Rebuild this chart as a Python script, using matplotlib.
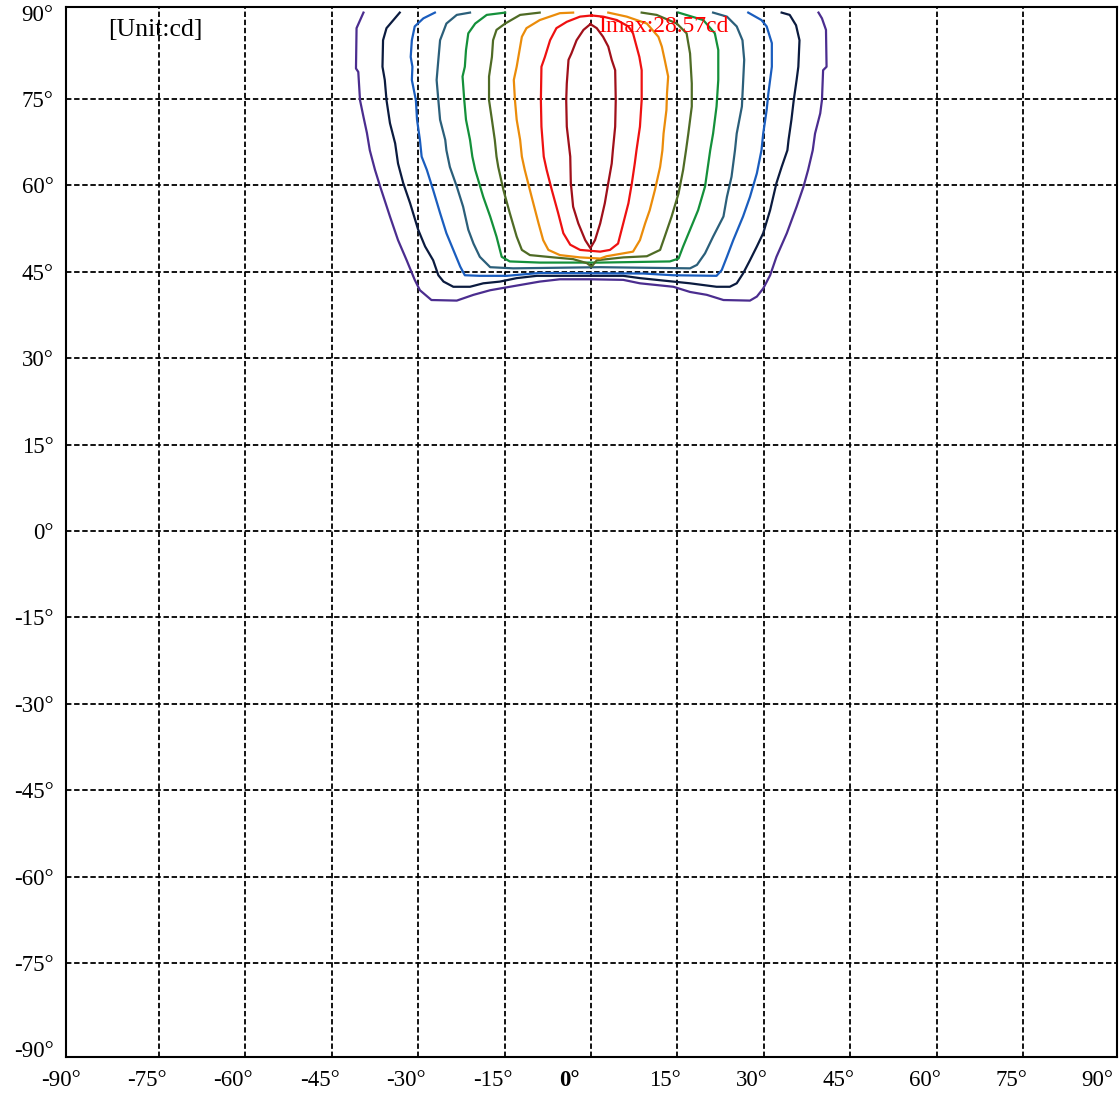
import numpy as np
import matplotlib
matplotlib.use('Agg')
import matplotlib.pyplot as plt
import matplotlib.transforms as mtransforms

# isocandela curves (degrees), outer -> inner
purple_x = [-39.5, -40.7, -40.8, -40.4, -40.1, -39.5, -38.9, -38.4, -37.5, -36.6, -34.9, -33.5, -32.0, -30.6, -29.7,
            -27.7, -23.3, -20.4, -17.5, -13.5, -8.9, -5.4, -0.2, 5.6, 8.5, 11.4, 14.3, 17.2, 20.1, 23.0, 27.6, 28.8,
            29.9, 31.1, 32.2, 34.0, 35.7, 36.9, 37.7, 38.5, 38.9, 39.8, 40.1, 40.3, 40.9, 40.8, 40.1, 39.5]
purple_y = [90.0, 87.3, 80.3, 79.7, 74.8, 71.9, 69.1, 66.1, 62.7, 59.8, 54.6, 50.5, 47.0, 43.6, 41.8,
            40.1, 40.0, 41.0, 41.8, 42.5, 43.3, 43.7, 43.7, 43.6, 43.0, 42.7, 42.4, 41.5, 41.0, 40.1, 40.0, 40.7,
            42.1, 44.4, 47.6, 51.7, 56.3, 59.8, 62.7, 66.1, 69.0, 72.5, 74.8, 80.0, 80.6, 87.0, 89.0, 90.0]

navy_x = [-33.2, -35.5, -36.1, -36.2, -35.8, -35.5, -34.9, -34.0, -33.5, -32.6, -31.4, -30.0, -28.8, -27.4, -26.5,
          -25.6, -23.9, -21.0, -18.7, -15.8, -12.9, -9.4, 1.6, 5.6, 8.5, 14.3, 17.2, 21.8, 24.1, 25.3, 26.4, 27.6,
          28.8, 29.9, 31.1, 32.2, 33.1, 34.1, 34.3, 34.8, 35.2, 35.7, 36.0, 36.2, 35.6, 34.5, 33.1]
navy_y = [90.0, 87.3, 85.2, 80.6, 78.3, 74.8, 70.8, 67.3, 63.8, 60.4, 56.9, 52.3, 49.4, 47.0, 44.4,
          43.3, 42.4, 42.4, 43.0, 43.3, 43.9, 44.3, 44.3, 44.3, 43.9, 43.3, 43.0, 42.4, 42.4, 43.0, 44.7, 47.0,
          49.4, 51.7, 55.7, 60.4, 63.2, 66.1, 67.9, 71.4, 74.8, 78.3, 80.6, 85.2, 87.8, 89.6, 90.0]

blue_x = [-27.1, -29.1, -30.6, -31.1, -31.3, -31.0, -31.1, -30.4, -30.2, -29.7, -29.4, -28.5, -27.4, -26.2, -25.1,
          -23.9, -22.7, -21.9, -19.3, -14.6, -11.2, -8.9, 9.1, 14.3, 21.8, 22.7, 23.6, 24.7, 26.4, 27.6, 28.8,
          29.6, 29.9, 30.5, 30.8, 31.4, 31.4, 30.5, 29.6, 27.3]
blue_y = [90.0, 89.0, 87.6, 85.2, 82.3, 80.6, 78.3, 74.8, 71.4, 67.9, 65.0, 62.7, 59.2, 55.2, 51.7,
          48.8, 45.9, 44.4, 44.3, 44.3, 44.6, 44.8, 44.7, 44.4, 44.3, 45.3, 47.6, 50.5, 54.6, 58.0, 62.1,
          66.1, 69.0, 73.1, 76.0, 80.6, 84.7, 87.6, 88.7, 90.0]

teal_x = [-21.0, -23.3, -25.1, -26.2, -26.5, -26.8, -26.5, -26.2, -25.3, -25.1, -24.5, -23.3, -22.2, -21.3, -20.4,
          -19.3, -17.5, -13.5, 1.6, 17.2, 18.4, 19.8, 21.2, 23.0, 23.6, 24.4, 25.0, 25.3, 26.2, 26.4, 26.6,
          26.3, 25.3, 23.6, 21.2]
teal_y = [90.0, 89.6, 88.1, 85.2, 81.8, 78.3, 74.8, 71.4, 67.9, 66.1, 63.2, 59.8, 56.3, 52.3, 49.9,
          47.6, 45.8, 45.6, 45.8, 45.6, 46.2, 48.2, 51.1, 54.6, 58.0, 61.5, 66.1, 69.0, 73.7, 77.7, 81.8,
          85.2, 87.6, 89.3, 90.0]

green_x = [-14.9, -18.1, -20.1, -21.3, -21.7, -21.9, -22.3, -22.0, -21.7, -21.0, -20.6, -20.1, -18.7, -17.5, -16.4,
           -15.5, -14.1, -8.9, 1.6, 13.7, 15.2, 16.0, 17.2, 18.6, 19.8, 20.7, 21.2, 21.8, 22.1, 22.1, 21.5,
           19.5, 15.2]
green_y = [90.0, 89.6, 88.1, 86.4, 83.5, 80.6, 78.9, 74.8, 71.4, 67.9, 65.0, 62.7, 58.0, 54.6, 51.1,
           47.6, 46.8, 46.6, 46.6, 46.8, 47.3, 49.4, 52.3, 55.7, 59.8, 66.1, 69.0, 73.7, 78.3, 83.5, 86.4,
           88.7, 90.0]

olive_x = [-8.9, -12.3, -14.9, -16.4, -17.0, -17.2, -17.7, -17.7, -17.2, -16.7, -16.4, -16.1, -15.2, -14.1, -12.9,
           -12.0, -10.6, -6.5, -3.1, -0.7, 0.1, 1.0, 5.6, 9.7, 12.0, 12.8, 14.0, 15.2, 16.0, 16.5, 16.9, 17.5,
           17.5, 17.2, 16.6, 14.9, 11.4, 8.8]
olive_y = [90.0, 89.6, 88.1, 87.0, 85.2, 82.3, 78.9, 74.8, 71.4, 67.9, 65.0, 63.2, 59.2, 55.2, 51.1,
           48.8, 47.9, 47.5, 47.2, 46.5, 45.9, 47.0, 47.5, 47.7, 48.8, 51.1, 54.6, 58.6, 62.7, 66.1, 69.0, 73.7,
           77.7, 82.9, 86.4, 88.1, 89.6, 90.0]

orange_x = [-3.1, -5.4, -8.9, -11.2, -12.0, -12.4, -12.9, -13.4, -13.2, -12.9, -12.3, -12.0, -11.5, -10.3, -9.1,
            -8.3, -7.4, -5.4, -1.9, 1.6, 2.7, 5.6, 7.3, 8.5, 9.4, 10.2, 11.1, 12.0, 12.4, 12.6, 13.1, 13.2, 13.4,
            12.8, 12.3, 11.7, 9.7, 6.2, 3.0]
orange_y = [90.0, 89.9, 88.7, 87.3, 85.8, 83.5, 80.6, 78.3, 74.8, 71.4, 67.9, 65.0, 62.7, 58.0, 53.4,
            50.5, 48.8, 47.9, 47.5, 47.3, 47.7, 48.2, 48.5, 50.5, 53.4, 55.7, 59.2, 63.2, 66.1, 69.0, 73.1, 76.0, 78.9,
            81.8, 84.1, 85.8, 88.1, 89.3, 90.0]

red_x = [0.1, -1.9, -4.2, -6.0, -7.1, -8.0, -8.6, -8.7, -8.6, -8.2, -7.7, -6.8, -5.7, -4.8, -3.6,
         -1.9, 1.6, 3.3, 4.7, 5.6, 6.5, 7.1, 7.6, 7.9, 8.5, 8.8, 8.8, 8.4, 7.3, 6.5, 4.5, 2.1, 0.1]
red_y = [89.5, 89.3, 88.4, 87.3, 85.2, 82.3, 80.6, 74.8, 70.2, 65.0, 62.7, 59.2, 55.2, 51.7, 49.7,
         48.8, 48.5, 48.8, 49.9, 53.4, 56.9, 60.4, 63.8, 66.1, 70.2, 74.8, 80.0, 82.3, 86.4, 87.6, 88.7, 89.3, 89.5]

darkred_x = [-0.1, -1.3, -2.5, -3.4, -3.9, -4.2, -4.3, -4.2, -3.6, -3.5, -3.1, -2.2, -1.0, -0.1,
             0.7, 1.6, 2.4, 3.0, 3.6, 3.8, 4.2, 4.3, 4.2, 3.6, 3.0, 2.1, 1.0, -0.1]
darkred_y = [88.0, 87.0, 85.2, 82.9, 81.8, 77.7, 74.8, 70.2, 65.0, 60.4, 56.3, 53.4, 50.5, 49.1,
             50.5, 53.4, 56.9, 60.4, 63.8, 66.1, 70.2, 74.8, 80.0, 81.8, 84.1, 85.8, 87.3, 88.0]

curves = [
    (purple_x, purple_y, '#4b2d8f'),
    (navy_x, navy_y, '#0b1b3f'),
    (blue_x, blue_y, '#1a5dbe'),
    (teal_x, teal_y, '#2b5f7a'),
    (green_x, green_y, '#14903a'),
    (olive_x, olive_y, '#4f6b25'),
    (orange_x, orange_y, '#eb8c0a'),
    (red_x, red_y, '#ee1111'),
    (darkred_x, darkred_y, '#a0101a'),
]

ticks = [-90, -75, -60, -45, -30, -15, 0, 15, 30, 45, 60, 75, 90]
tick_labels = ['%d°' % t for t in ticks]
unit_text = '[Unit:cd]'
imax_text = 'Imax:28.57cd'

plt.rcParams['font.family'] = ['Liberation Serif', 'DejaVu Serif']

fig = plt.figure(figsize=(11.2, 10.95), dpi=100)
ax = fig.add_axes([0.0589, 0.0347, 0.9384, 0.9589])
ax.set_xlim(-91.15, 91.32)
ax.set_ylim(-91.32, 90.97)

# dashed grid at every 15 deg (inner lines only)
for t in ticks[1:-1]:
    ax.axvline(t, color='black', lw=1.3, linestyle=(0, (3, 1.5)), zorder=1)
    ax.axhline(t, color='black', lw=1.3, linestyle=(0, (3, 1.5)), zorder=1)

for xs, ys, c in curves:
    ax.plot(xs, ys, color=c, lw=1.6, zorder=2)

ax.set_xticks(ticks)
ax.set_xticklabels(tick_labels, fontsize=16.5)
ax.set_yticks(ticks)
ax.set_yticklabels(tick_labels, fontsize=16.5)
ax.tick_params(length=0, pad=9)

# x labels in the reference sit a bit left of the grid lines
for t, lab in zip(ticks, ax.get_xticklabels()):
    dx = -22 if t == 0 else -12
    if t == 0:
        lab.set_fontweight('bold')
    lab.set_transform(lab.get_transform() + mtransforms.ScaledTranslation(dx / 100.0, 0, fig.dpi_scale_trans))

for sp in ax.spines.values():
    sp.set_linewidth(1.5)
    sp.set_color('black')

ax.text(0.04, 0.978, unit_text, transform=ax.transAxes, fontsize=18.5, ha='left', va='center')
ax.text(1.2, 87.5, imax_text, color='#ff0000', fontsize=17, ha='left', va='center', zorder=3)

fig.savefig('out.png', dpi=100)
